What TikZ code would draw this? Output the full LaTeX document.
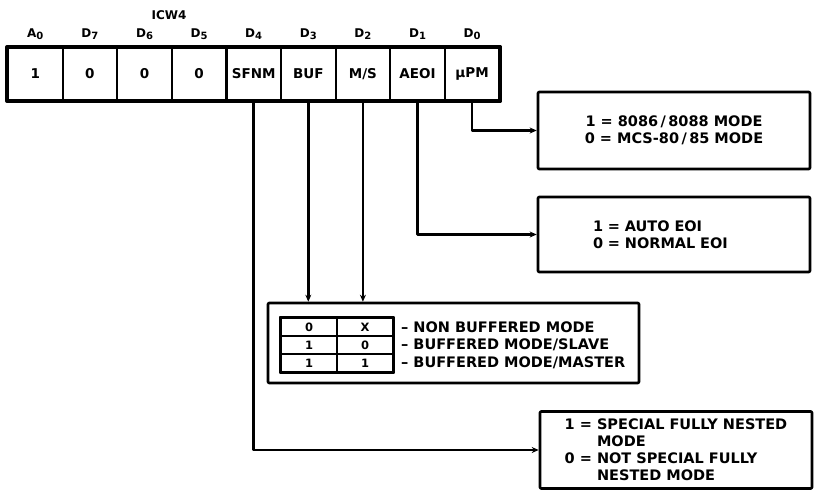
\documentclass[tikz,border=0pt]{standalone}
\usepackage{fontspec}
\setmainfont{DejaVu Sans}
\usetikzlibrary{arrows.meta}
\newcommand\lowdig[1]{\raisebox{-0.35ex}{\fontsize{10}{10}\selectfont #1}}
\tikzset{
  cell/.style={draw, line width=2.2pt, minimum width=54.6pt, minimum height=52pt, inner sep=0pt, font=\bfseries\fontsize{13.5}{15}\selectfont},
  bitlabel/.style={font=\bfseries\fontsize{12}{13}\selectfont},
  modebox/.style={draw, line width=2.6pt, rounded corners=1pt, inner sep=0pt, font=\bfseries\fontsize{14.5}{17}\selectfont},
  tabcell/.style={draw, line width=1.8pt, minimum width=56pt, minimum height=18pt, inner sep=0pt, font=\bfseries\fontsize{11.5}{12}\selectfont},
  modetext/.style={anchor=west, inner sep=0pt, font=\bfseries\fontsize{14.5}{15}\selectfont},
  wire/.style={line width=2.7pt},
}
\begin{document}
\begin{tikzpicture}[x=1pt, y=-1pt, >={Stealth[length=7pt,width=6pt]}, line join=round]
    \useasboundingbox (0,0) rectangle (815,491);
    % ICW4 register
    \node[bitlabel] (icw) at (169,15) {ICW4};
    \foreach \name/\bit/\txt [count=\i from 0] in {a0/A\lowdig{0}/1, d7/D\lowdig{7}/0, d6/D\lowdig{6}/0, d5/D\lowdig{5}/0,
        sfnm/D\lowdig{4}/SFNM, buf/D\lowdig{3}/BUF, ms/D\lowdig{2}/{M\slash S}, aeoi/D\lowdig{1}/AEOI, upm/D\lowdig{0}/µPM}
    {
        \node[cell] (\name) at ({8+54.6*(\i+0.5)},74) {\txt};
        \node[bitlabel] (lab-\name) at ({8+54.6*(\i+0.5)},34) {\bit};
    }
    \draw[line width=3.6pt] (a0.north west) rectangle (upm.south east);
    % mode boxes
    \node[modebox, minimum width=272pt, minimum height=77pt, align=center] (cpubox) at (674,130.5)
        {1 = 8086\,/\,8088 MODE\\0 = MCS-80\,/\,85 MODE};
    \node[modebox, minimum width=272pt, minimum height=75pt, text width=162pt, align=left] (eoibox) at (674,234.5)
        {1 = AUTO EOI\\0 = NORMAL EOI};
    \node[modebox, minimum width=371pt, minimum height=80pt] (bufbox) at (453.5,343) {};
    \node[modebox, minimum width=272pt, minimum height=77pt, align=left] (nested) at (676,450)
        {1 = SPECIAL FULLY NESTED\\\phantom{1 = }MODE\\0 = NOT SPECIAL FULLY\\\phantom{0 = }NESTED MODE};
    % buffer table
    \foreach \r/\b/\m/\txt [count=\j from 0] in {0/0/X/-- NON BUFFERED MODE, 1/1/0/-- BUFFERED MODE\slash SLAVE, 2/1/1/-- BUFFERED MODE\slash MASTER}
    {
        \node[tabcell] (t\r a) at (309,{327+18*\j}) {\b};
        \node[tabcell] (t\r b) at (365,{327+18*\j}) {\m};
        \node[modetext] (txt\r) at (401,{327+18*\j}) {\txt};
    }
    \draw[line width=2.6pt] (t0a.north west) rectangle (t2b.south east);
    % connectors
    \draw[wire,->] (sfnm.south) |- (nested.west);
    \draw[wire,->] (buf.south) -- (buf.south |- bufbox.north);
    \draw[wire,->] (ms.south) -- (ms.south |- bufbox.north);
    \draw[wire,->] (aeoi.south) |- (eoibox.west);
    \draw[wire,->] (upm.south) |- (cpubox.west);
\end{tikzpicture}
\end{document}
